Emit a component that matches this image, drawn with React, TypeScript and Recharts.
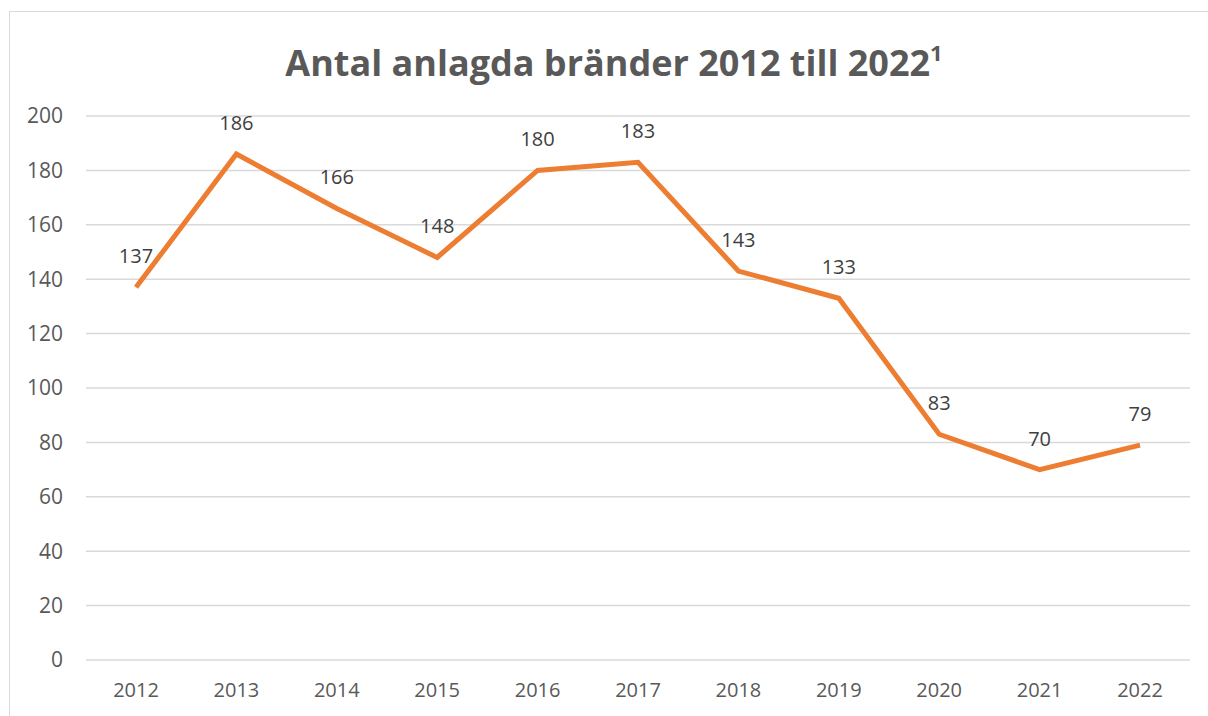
import { LineChart, Line, XAxis, YAxis, CartesianGrid, LabelList } from "recharts";

const YEARS = ["2012", "2013", "2014", "2015", "2016", "2017", "2018", "2019", "2020", "2021", "2022"];
const FIRES = [137, 186, 166, 148, 180, 183, 143, 133, 83, 70, 79];
const Y_TICKS = [0, 20, 40, 60, 80, 100, 120, 140, 160, 180, 200];

const FONT = "'Open Sans', 'Liberation Sans', sans-serif";
const ORANGE = "#ED7D31";

export default function App() {
    const data = YEARS.map((year, i) => ({ year, value: FIRES[i] }));

    return (
        <div
            style={{
                position: "fixed",
                left: 0,
                top: 0,
                width: 1208,
                height: 716,
                overflow: "hidden",
                background: "#fff",
                fontFamily: FONT,
            }}
        >
            <div
                style={{
                    position: "absolute",
                    left: 9,
                    top: 11,
                    width: 1260,
                    height: 760,
                    border: "1px solid #d9d9d9",
                    boxSizing: "border-box",
                }}
            />
            <div
                style={{
                    position: "absolute",
                    left: 0,
                    width: 1228,
                    top: 29,
                    textAlign: "center",
                    fontSize: 36,
                    fontWeight: 700,
                    color: "#595959",
                    lineHeight: "50px",
                    whiteSpace: "nowrap",
                }}
            >
                Antal anlagda bränder 2012 till 2022
                <sup style={{ fontSize: 22, position: "relative", top: -2 }}>1</sup>
            </div>
            <div style={{ position: "absolute", left: 0, top: 0 }}>
                <LineChart
                    width={1208}
                    height={716}
                    data={data}
                    margin={{ top: 116, right: 18, bottom: 26, left: 26 }}
                >
                    <CartesianGrid vertical={false} stroke="#d9d9d9" strokeWidth={1.5} />
                    <XAxis
                        dataKey="year"
                        axisLine={false}
                        tickLine={false}
                        tickMargin={17}
                        padding={{ left: 50, right: 50 }}
                        tick={{ fill: "#595959", fontSize: 20, fontFamily: FONT }}
                    />
                    <YAxis
                        domain={[0, 200]}
                        ticks={Y_TICKS}
                        axisLine={false}
                        tickLine={false}
                        width={60}
                        tickMargin={17}
                        tick={{ fill: "#595959", fontSize: 21, fontFamily: FONT }}
                    />
                    <Line
                        type="linear"
                        dataKey="value"
                        stroke={ORANGE}
                        strokeWidth={5}
                        dot={false}
                        isAnimationActive={false}
                    >
                        <LabelList
                            dataKey="value"
                            position="top"
                            offset={24}
                            fill="#404040"
                            fontSize={20}
                            fontFamily={FONT}
                        />
                    </Line>
                </LineChart>
            </div>
        </div>
    );
}
